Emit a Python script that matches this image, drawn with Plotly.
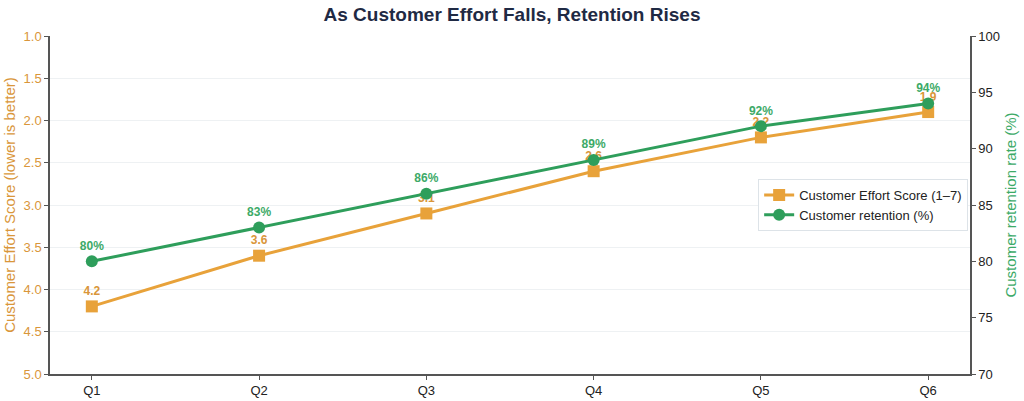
import plotly.graph_objects as go

quarters = ["Q1", "Q2", "Q3", "Q4", "Q5", "Q6"]
ces = [4.2, 3.6, 3.1, 2.6, 2.2, 1.9]
retention = [80, 83, 86, 89, 92, 94]
ces_labels = [f"{v:.1f}" for v in ces]
ret_labels = [f"{v}%" for v in retention]

ORANGE = "#E8A23A"
ORANGE_TXT = "#D9963A"
GREEN = "#2E9E5B"
GREEN_TXT = "#3DAA68"
AXIS = "#555555"
FONT = "Liberation Sans, Arial, sans-serif"

fig = go.Figure()
fig.add_trace(go.Scatter(
    x=quarters, y=ces, name="Customer Effort Score (1–7)",
    mode="lines+markers+text", text=ces_labels, textposition="top center",
    textfont=dict(color=ORANGE_TXT, size=12, family=FONT, weight="bold"),
    line=dict(color=ORANGE, width=3),
    marker=dict(symbol="square", size=12, color=ORANGE),
    yaxis="y", cliponaxis=False,
))
fig.add_trace(go.Scatter(
    x=quarters, y=retention, name="Customer retention (%)",
    mode="lines+markers+text", text=ret_labels, textposition="top center",
    textfont=dict(color=GREEN_TXT, size=12, family=FONT, weight="bold"),
    line=dict(color=GREEN, width=3),
    marker=dict(symbol="circle", size=12, color=GREEN),
    yaxis="y2", cliponaxis=False,
))

fig.update_layout(
    width=1024, height=401,
    margin=dict(l=50, r=54, t=36, b=27, autoexpand=False),
    paper_bgcolor="white", plot_bgcolor="white",
    font=dict(family=FONT, size=13, color="#222222"),
    title=dict(text="<b>As Customer Effort Falls, Retention Rises</b>",
               x=0.5, xanchor="center", y=0.98, yanchor="top",
               font=dict(size=19, color="#1F2A44", family=FONT)),
    xaxis=dict(
        type="category", range=[-0.25, 5.25], automargin=False,
        showline=True, linecolor=AXIS, linewidth=1.5,
        ticks="outside", ticklen=4, tickcolor=AXIS,
        showgrid=False, tickfont=dict(size=13, color="#222222"),
    ),
    yaxis=dict(
        range=[5, 1], automargin=False,
        tickvals=[1.0, 1.5, 2.0, 2.5, 3.0, 3.5, 4.0, 4.5, 5.0],
        ticktext=["1.0", "1.5", "2.0", "2.5", "3.0", "3.5", "4.0", "4.5", "5.0"],
        showline=True, linecolor=AXIS, linewidth=1.5,
        ticks="outside", ticklen=4, tickcolor=AXIS,
        showgrid=True, gridcolor="#EEF1F3", gridwidth=1, zeroline=False,
        tickfont=dict(size=13, color=ORANGE_TXT),
        title=dict(text="Customer Effort Score (lower is better)",
                   font=dict(size=15, color=ORANGE_TXT), standoff=4),
    ),
    yaxis2=dict(
        range=[70, 100], dtick=5, overlaying="y", side="right", automargin=False,
        showline=True, linecolor=AXIS, linewidth=1.5,
        ticks="outside", ticklen=4, tickcolor=AXIS,
        showgrid=False, zeroline=False,
        tickfont=dict(size=13, color="#222222"),
        title=dict(text="Customer retention rate (%)",
                   font=dict(size=15, color=GREEN_TXT), standoff=6),
    ),
    legend=dict(
        x=0.998, xanchor="right", y=0.5, yanchor="middle",
        bgcolor="white", bordercolor="#DDE3E8", borderwidth=1,
        font=dict(size=13, color="#222222"),
    ),
    showlegend=True,
)

fig.write_html("out.html")
